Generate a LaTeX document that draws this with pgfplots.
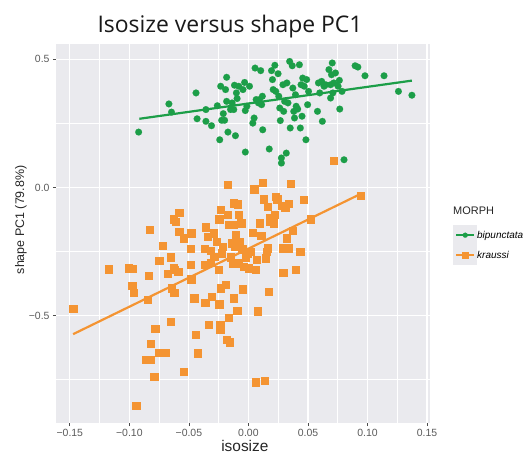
\documentclass[border=0pt]{standalone}
\usepackage{pgfplots}
\pgfplotsset{compat=1.18}
\usepackage{pgfplotstable}
\usepackage{fontspec}
\setmainfont{Liberation Sans}
\newfontfamily\titlefont{Open Sans}
\definecolor{panel}{RGB}{234,234,238}
\definecolor{grn}{RGB}{28,158,72}
\definecolor{org}{RGB}{244,148,50}
\definecolor{tickc}{RGB}{90,90,90}

\pgfplotstableread{
x y
-0.0922 0.216
-0.0668 0.326
-0.0646 0.294
-0.0440 0.369
-0.0431 0.268
-0.0357 0.304
-0.0357 0.258
-0.0310 0.241
-0.0261 0.319
-0.0241 0.186
-0.0233 0.395
-0.0225 0.262
-0.0211 0.288
-0.0200 0.262
-0.0192 0.382
-0.0183 0.430
-0.0183 0.336
-0.0172 0.216
-0.0150 0.304
-0.0137 0.330
-0.0123 0.304
-0.0117 0.399
-0.0109 0.202
-0.0101 0.369
-0.0095 0.347
-0.0081 0.395
-0.0046 0.382
-0.0032 0.410
-0.0026 0.300
-0.0026 0.138
-0.0013 0.317
0.0009 0.395
0.0037 0.251
0.0048 0.271
0.0056 0.466
0.0065 0.343
0.0084 0.330
0.0092 0.343
0.0103 0.456
0.0111 0.323
0.0117 0.356
0.0120 0.225
0.0175 0.150
0.0194 0.456
0.0202 0.421
0.0208 0.382
0.0222 0.477
0.0230 0.375
0.0249 0.444
0.0255 0.356
0.0263 0.310
0.0268 0.261
0.0277 0.115
0.0277 0.095
0.0290 0.401
0.0296 0.297
0.0304 0.336
0.0318 0.134
0.0323 0.408
0.0332 0.330
0.0346 0.492
0.0351 0.232
0.0368 0.475
0.0373 0.388
0.0381 0.297
0.0387 0.271
0.0395 0.362
0.0401 0.317
0.0414 0.306
0.0428 0.479
0.0436 0.232
0.0442 0.401
0.0450 0.278
0.0456 0.427
0.0469 0.395
0.0483 0.186
0.0489 0.421
0.0497 0.323
0.0505 0.375
0.0580 0.297
0.0588 0.408
0.0599 0.369
0.0615 0.414
0.0621 0.258
0.0635 0.395
0.0649 0.401
0.0676 0.460
0.0690 0.401
0.0690 0.349
0.0698 0.440
0.0704 0.486
0.0709 0.369
0.0717 0.408
0.0731 0.447
0.0753 0.395
0.0764 0.418
0.0767 0.306
0.0786 0.375
0.0803 0.108
0.0896 0.475
0.0919 0.470
0.0979 0.436
0.1139 0.436
0.1260 0.375
0.1373 0.360
}\bipunctata

\pgfplotstableread{
x y
-0.1472 -0.4739
-0.1178 -0.3189
-0.1010 -0.3150
-0.0977 -0.3163
-0.0977 -0.3840
-0.0968 -0.4101
-0.0944 -0.8515
-0.0861 -0.6731
-0.0844 -0.4387
-0.0839 -0.3450
-0.0825 -0.6731
-0.0820 -0.6106
-0.0831 -0.1653
-0.0792 -0.7382
-0.0784 -0.5520
-0.0751 -0.6444
-0.0751 -0.2851
-0.0723 -0.2265
-0.0701 -0.6444
-0.0682 -0.3372
-0.0654 -0.2720
-0.0652 -0.5233
-0.0646 -0.3931
-0.0632 -0.3124
-0.0624 -0.4101
-0.0618 -0.3215
-0.0632 -0.1236
-0.0613 -0.1327
-0.0591 -0.3280
-0.0583 -0.1731
-0.0583 -0.0976
-0.0544 -0.7187
-0.0544 -0.1978
-0.0489 -0.3020
-0.0481 -0.1783
-0.0486 -0.2382
-0.0481 -0.3580
-0.0456 -0.4322
-0.0445 -0.5754
-0.0426 -0.6470
-0.0371 -0.2395
-0.0371 -0.3020
-0.0365 -0.4491
-0.0362 -0.1549
-0.0343 -0.1913
-0.0335 -0.5364
-0.0321 -0.2473
-0.0315 -0.2929
-0.0307 -0.4257
-0.0293 -0.1783
-0.0288 -0.2694
-0.0266 -0.2108
-0.0252 -0.3215
-0.0247 -0.4556
-0.0247 -0.1236
-0.0238 -0.5364
-0.0238 -0.5559
-0.0233 -0.3931
-0.0233 -0.0872
-0.0224 -0.2564
-0.0219 -0.2304
-0.0191 -0.3801
-0.0183 -0.5950
-0.0178 0.0105
-0.0178 -0.1067
-0.0169 -0.5077
-0.0164 -0.1457
-0.0156 -0.6041
-0.0150 -0.2720
-0.0142 -0.2174
-0.0136 -0.2955
-0.0128 -0.0611
-0.0123 -0.4322
-0.0123 -0.1457
-0.0117 -0.2304
-0.0109 -0.1848
-0.0095 -0.4817
-0.0090 -0.0650
-0.0081 -0.1067
-0.0081 -0.2955
-0.0073 -0.2108
-0.0062 -0.1392
-0.0054 -0.2408
-0.0048 -0.3970
-0.0040 -0.3085
-0.0026 -0.2720
-0.0007 -0.2564
0.0001 -0.3150
0.0015 -0.2499
0.0037 -0.1757
0.0048 -0.0064
0.0057 -0.3215
0.0057 -0.7603
0.0070 -0.2825
0.0076 -0.4830
0.0092 -0.1392
0.0106 -0.1887
0.0117 0.0196
0.0125 -0.0455
0.0134 -0.7538
0.0147 -0.2760
0.0153 -0.2499
0.0158 -0.0741
0.0161 -0.2369
0.0172 -0.4062
0.0181 -0.1197
0.0181 -0.1327
0.0208 -0.1392
0.0222 -0.1067
0.0230 -0.0351
0.0241 -0.0455
0.0277 -0.0715
0.0291 -0.3319
0.0291 -0.2369
0.0307 -0.0767
0.0318 -0.1978
0.0332 -0.2369
0.0340 -0.0637
0.0354 0.0144
0.0373 -0.1679
0.0398 -0.3215
0.0434 -0.2499
0.0464 -0.0481
0.0519 -0.1236
0.0944 -0.0312
0.0715 0.1040
}\kraussi

\begin{document}
\begin{tikzpicture}
\useasboundingbox (0,0) rectangle (528bp,455bp);
\node[anchor=base, font=\titlefont\fontsize{23}{26}\selectfont, text=black!90] at (230bp,422bp) {Isosize versus shape PC1};
\node[anchor=base west, inner sep=0pt, font=\fontsize{11}{13}\selectfont, text=black!85] at (453bp,240bp) {MORPH};
\begin{axis}[
  at={(56bp,32bp)}, anchor=south west,
  scale only axis, width=374bp, height=379bp,
  xmin=-0.1616, xmax=0.1525, ymin=-0.92, ymax=0.56,
  axis background/.style={fill=panel},
  axis line style={draw=none},
  grid=both,
  major grid style={white, line width=1.1bp},
  minor grid style={white, line width=0.5bp},
  xtick={-0.15,-0.10,-0.05,0,0.05,0.10,0.15},
  xticklabels={−0.15,−0.10,−0.05,0.00,0.05,0.10,0.15},
  minor xtick={-0.125,-0.075,-0.025,0.025,0.075,0.125},
  ytick={-0.5,0,0.5},
  yticklabels={−0.5,0.0,0.5},
  minor ytick={-0.75,-0.25,0.25},
  tick pos=left, tick align=outside,
  major tick length=3bp, minor tick length=0pt,
  tick style={draw=black!70, line width=0.7bp},
  ticklabel style={font=\fontsize{10.5}{12}\selectfont, text=tickc},
  xlabel={isosize},
  ylabel={shape PC1 (79.8\%)},
  xlabel style={at={(axis description cs:0.505,-0.0765)}, anchor=base, font=\fontsize{15.5}{18}\selectfont, text=black!85},
  ylabel style={at={(axis description cs:-0.085,0.536)}, anchor=base, font=\fontsize{12.5}{15}\selectfont, text=black!85},
  legend style={at={(axis description cs:1.0615,0.5225)}, anchor=north west, draw=none, fill=none,
    font=\itshape\fontsize{10}{12}\selectfont, inner sep=0pt, row sep=0pt,
    nodes={inner sep=0pt, text height=12bp, text depth=6bp},
    /tikz/every even column/.append style={column sep=6bp}},
  legend cell align=left,
  legend image code/.code={
    \fill[panel] (0bp,-9bp) rectangle (22bp,9bp);
    \draw[mark repeat=2, mark phase=2, #1] plot coordinates {(2bp,0bp) (11bp,0bp) (20bp,0bp)};
  },
]
\addplot[grn, only marks, mark=*, mark size=3.4bp, mark options={draw=grn, fill=grn, line width=0.1bp}, forget plot] table {\bipunctata};
\addplot[grn, line width=2.2bp, forget plot] coordinates {(-0.0916,0.268) (0.1373,0.417)};
\addplot[org, only marks, mark=square*, mark size=3.6bp, mark options={draw=org, fill=org, line width=0.1bp}, forget plot] table {\kraussi};
\addplot[org, line width=2.2bp, forget plot] coordinates {(-0.1472,-0.573) (0.0944,-0.025)};
\addlegendimage{grn, line width=2bp, mark=*, mark size=2.5bp, mark options={draw=grn, fill=grn, line width=0.1bp}}
\addlegendentry{bipunctata}
\addlegendimage{org, line width=2bp, mark=square*, mark size=3bp, mark options={draw=org, fill=org, line width=0.1bp}}
\addlegendentry{kraussi}
\end{axis}
\end{tikzpicture}
\end{document}
